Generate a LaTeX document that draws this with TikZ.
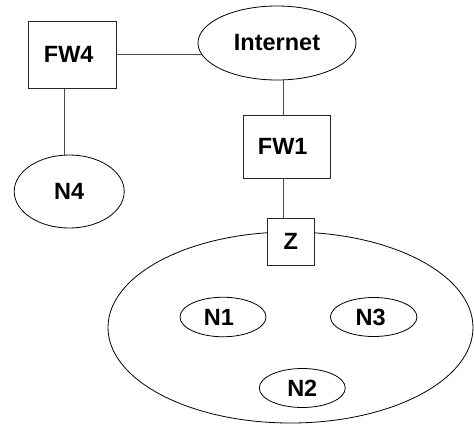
\documentclass[tikz,border=0pt]{standalone}
\usepackage{fontspec}
\setmainfont{Liberation Sans}
\usetikzlibrary{shapes.geometric}
\begin{document}
\begin{tikzpicture}[x=1pt,y=-1pt,
  every node/.style={font=\fontsize{23.5}{27}\selectfont\bfseries, inner sep=0pt},
  fwbox/.style={draw=black!85, line width=0.8pt, fill=white, rectangle},
  net/.style={draw=black, line width=0.8pt, ellipse},
  link/.style={draw=black!70, line width=0.9pt}]
  \useasboundingbox (0,0) rectangle (474,426);

  % enclosing network
  \node[net, minimum width=365, minimum height=191] (Zone) at (290.5,327.5) {};
  \node[net, minimum width=86, minimum height=39.5] (N1) at (223,317) {\hspace*{-8pt}N1};
  \node[net, minimum width=86.5, minimum height=39] (N3) at (373.7,317) {\hspace*{-6pt}N3};
  \node[net, minimum width=86, minimum height=39] (N2) at (302.3,388) {N2};

  % outer nodes
  \node[net, minimum width=158, minimum height=74] (Internet) at (277,43) {\raisebox{-4pt}{Internet}};
  \node[fwbox, minimum width=88, minimum height=67] (FW4) at (72.7,54.8) {\raisebox{-2pt}{FW4}\hspace*{8pt}};
  \node[net, minimum width=110, minimum height=73] (N4) at (69.2,191.5) {\raisebox{-5pt}{N4}};
  \node[fwbox, minimum width=87.3, minimum height=63.3] (FW1) at (286.7,146.7) {\raisebox{-2pt}{FW1}\hspace*{8pt}};
  \node[fwbox, minimum width=47.3, minimum height=46.7] (Z) at (290.7,241.7) {Z};

  % connectors
  \draw[link] (FW4.east) -- (Internet.188 |- FW4.east);
  \draw[link] (N4.north -| FW4.south west) ++(36.6,0) coordinate (n4top) -- (n4top |- FW4.south);
  \draw[link] ([xshift=-3.7pt]FW1.north) -- ([xshift=-3.7pt]FW1.north |- Internet.south);
  \draw[link] ([xshift=-3.7pt]FW1.south) -- ([xshift=-3.7pt]FW1.south |- Z.north);
\end{tikzpicture}
\end{document}
